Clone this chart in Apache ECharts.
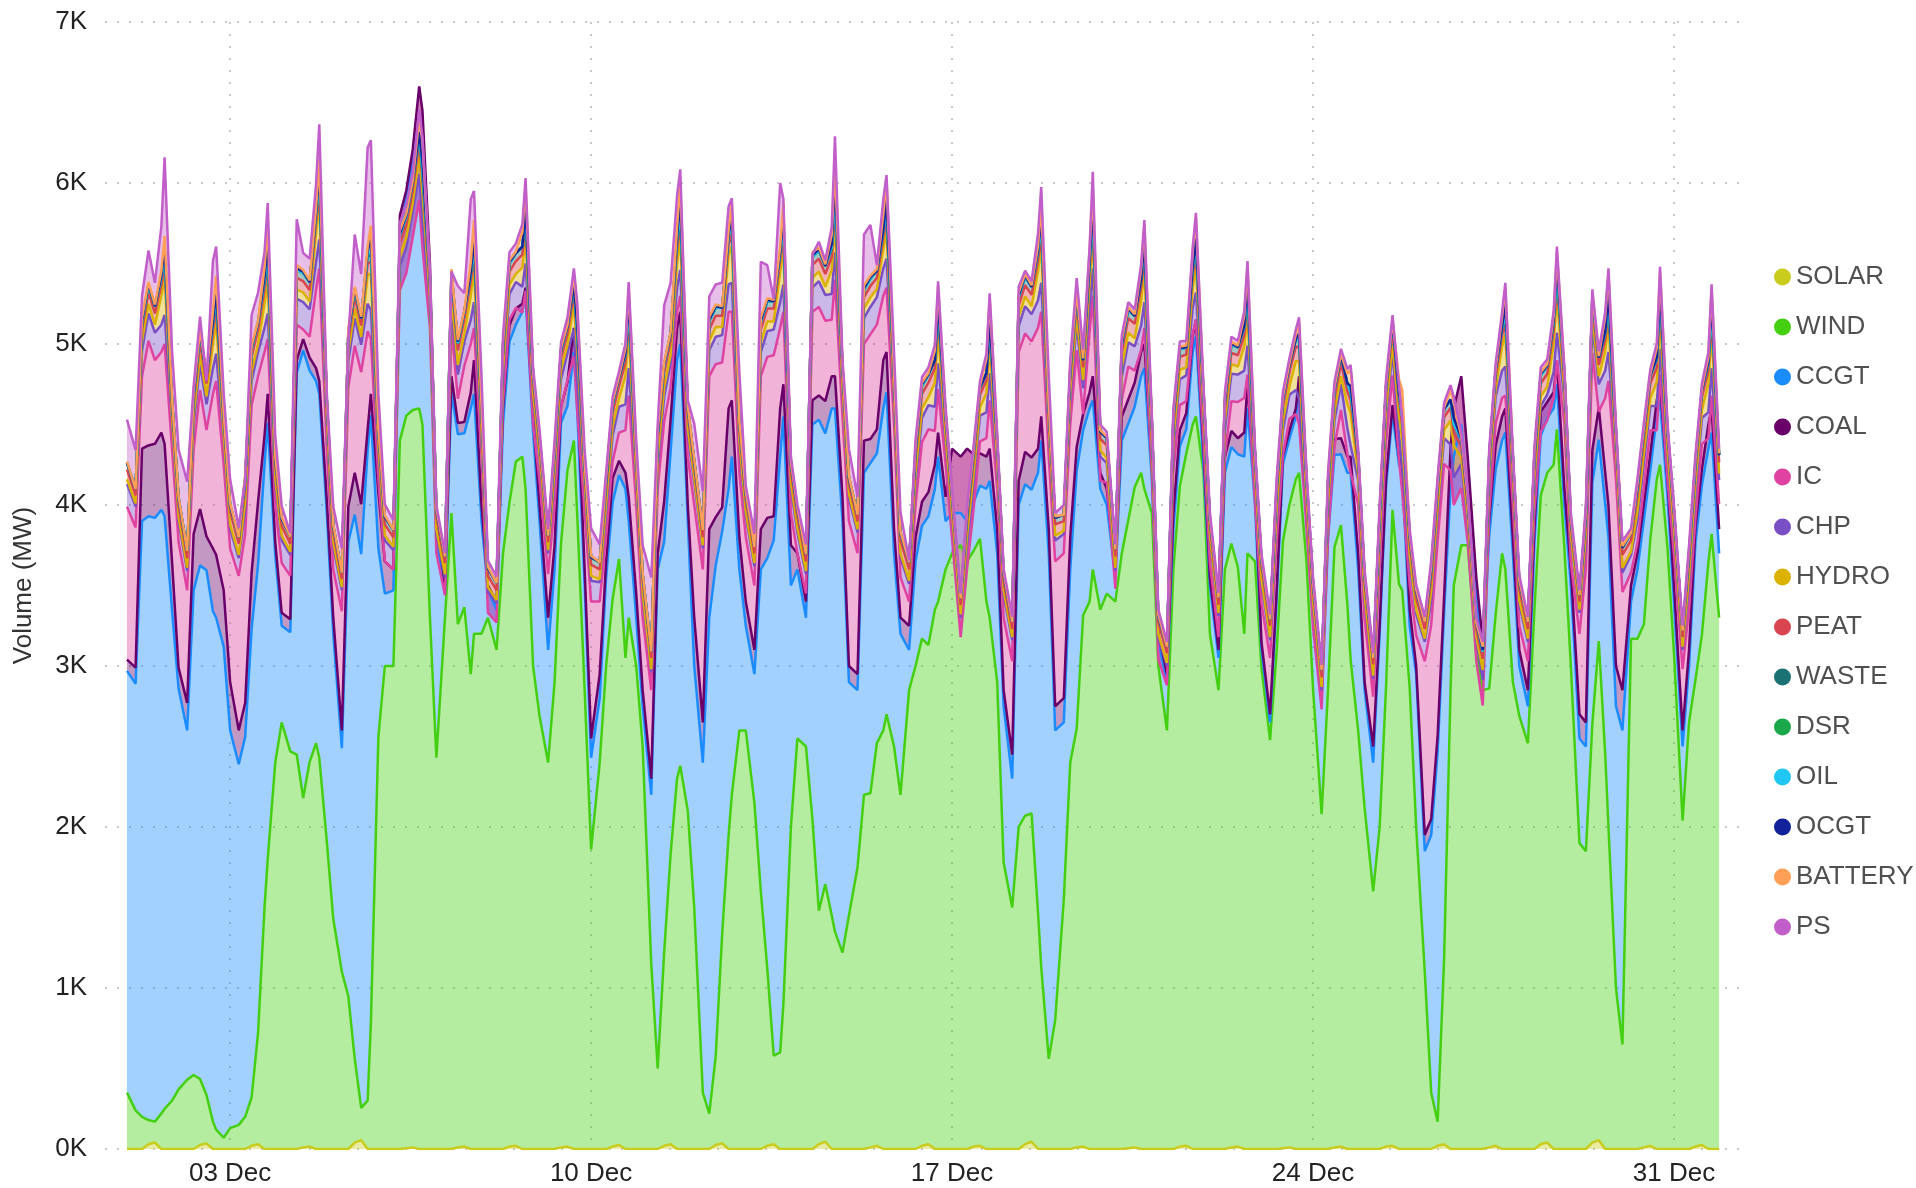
<!DOCTYPE html>
<html>
<head>
<meta charset="utf-8">
<title>Generation by fuel - December</title>
<script src="https://cdn.jsdelivr.net/npm/echarts@6.0.0/dist/echarts.min.js"></script>
<style>
  html, body { margin: 0; padding: 0; background: #fff; }
  #chart { width: 1916px; height: 1188px; }
</style>
</head>
<body>
<div id="chart"></div>
<script>
// 8 readings per day, at these hours of the day
const hours = [0, 4, 7, 10, 13, 16, 17.5, 21];
const dayCount = 31;
// tick positions in days from 01 Dec 00:00
const tickDays = [2, 9, 16, 23, 30];

const fuels = ['SOLAR', 'WIND', 'CCGT', 'COAL', 'IC', 'CHP', 'HYDRO', 'PEAT', 'WASTE', 'DSR', 'OIL', 'OCGT', 'BATTERY', 'PS'];
const colors = ['#c9cc1d', '#44d011', '#1a8cff', '#690069', '#df42a0', '#7a4fc6', '#dcb200', '#d8444f', '#1b7272', '#1ba84a', '#1fc7f2', '#12229b', '#ffa056', '#c25ec9'];

// MW
const solar = [
  0,0,0,30,40,0,0,0, 0,0,0,25,35,0,0,0, 0,0,0,20,30,0,0,0, 0,0,0,10,15,0,0,0,
  0,0,0,40,55,0,0,0, 0,0,0,5,10,0,0,0, 0,0,0,10,15,0,0,0, 0,0,0,15,20,0,0,0,
  0,0,0,10,15,0,0,0, 0,0,0,15,25,0,0,0, 0,0,0,20,30,0,0,0, 0,0,0,25,35,0,0,0,
  0,0,0,20,30,0,0,0, 0,0,0,30,45,0,0,0, 0,0,0,10,20,0,0,0, 0,0,0,20,30,0,0,0,
  0,0,0,15,20,0,0,0, 0,0,0,30,45,0,0,0, 0,0,0,10,15,0,0,0, 0,0,0,5,10,0,0,0,
  0,0,0,15,20,0,0,0, 0,0,0,10,15,0,0,0, 0,0,0,5,10,0,0,0, 0,0,0,10,15,0,0,0,
  0,0,0,15,20,0,0,0, 0,0,0,20,30,0,0,0, 0,0,0,10,20,0,0,0, 0,0,0,30,40,0,0,0,
  0,0,0,40,55,0,0,0, 0,0,0,10,20,0,0,0, 0,0,0,15,25,0,0,0
];

const wind = [
  350,240,200,150,130,220,250,300,       // 01
  370,430,460,410,300,170,120,70,
  130,150,200,300,690,1500,1800,2400,
  2650,2470,2450,2170,2390,2520,2430,1910,
  1430,1100,950,520,200,300,780,2560,    // 05
  3000,3000,4400,4550,4580,4600,4500,3300,
  2430,3300,3950,3250,3350,2950,3200,3200,
  3300,3100,3700,4000,4250,4300,4100,3000,
  2690,2400,2900,3750,4200,4400,3950,2850,
  1860,2400,3000,3400,3640,3050,3300,3000, // 10
  2500,1150,500,1200,1800,2300,2380,2100,
  1500,350,220,550,1300,1950,2200,2600,
  2600,2150,1600,1100,550,600,900,2000,
  2550,2500,2050,1450,1600,1450,1350,1220,
  1450,1750,2200,2200,2500,2600,2700,2500, // 15
  2200,2850,3000,3150,3100,3350,3400,3600,
  3700,3750,3650,3700,3770,3400,3300,2900,
  1780,1500,2000,2040,2040,1470,1130,560,
  800,1550,2400,2600,3300,3400,3600,3350,
  3450,3400,3700,3900,4100,4200,4100,3950, // 20
  3000,2600,3600,4100,4300,4500,4550,4200,
  3200,2850,3600,3750,3600,3200,3700,3650,
  2990,2540,3080,3770,3990,4160,4200,3640,
  2860,2080,2860,3730,3860,3380,3040,2600,
  2120,1600,2000,2860,3950,3510,3470,2860, // 25
  2000,1100,350,150,1150,2850,3500,3750,
  3750,3100,2850,2850,3300,3700,3600,2900,
  2690,2520,3340,4030,4160,4250,4470,3730,
  3000,1900,1850,2600,3100,2450,2000,1000,
  650,3170,3170,3250,3770,4160,4250,3730,  // 30
  3080,2040,2650,2900,3170,3640,3820,3300
];

const ccgt = [
  2620,2650,3700,3750,3750,3750,3680,3040,
  2490,2170,3010,3190,3260,3170,3180,3050,
  2470,2240,2360,2910,2910,2750,2710,1290,
  600,740,2370,2780,2430,2250,2260,2040,
  1770,1390,2820,3380,3440,4040,3780,1170,
  450,470,1240,1350,1540,1820,1790,2040,
  1370,150,750,1180,1080,1650,1490,700,
  170,250,800,1000,850,900,1200,1450,
  1210,700,700,750,400,550,650,650,
  570,400,550,600,520,1050,600,300,
  250,1050,3100,2550,2500,2600,2620,1800,
  1500,2050,3080,3050,2500,2150,2100,1000,
  650,800,2000,2550,3200,3700,3650,1500,
  1050,800,2450,3050,2800,3150,3250,2680,
  1450,1100,2000,2050,1800,2000,2000,1200,
  1000,250,650,700,800,750,900,300,
  250,200,250,300,330,700,850,800,
  970,800,2000,2060,2010,2730,3270,3140,
  1800,1100,1200,1600,1150,1200,1050,750,
  550,150,700,600,500,600,750,200,
  150,300,250,250,150,450,500,50,
  300,200,600,600,700,1100,900,350,
  110,110,320,480,410,390,550,310,
  540,720,940,570,440,820,1160,1000,
  730,800,1200,1240,600,740,730,390,
  950,750,1600,2300,2150,1250,800,750,
  250,350,200,950,900,700,850,800,
  310,230,410,370,340,350,280,270,
  500,650,650,1500,1250,1550,1800,1750,
  1950,230,430,650,430,390,400,320,
  320,460,350,850,930,710,630,400
];

const coal = [
  70,100,450,440,460,480,450,300,
  130,170,350,350,210,390,390,350,
  300,210,210,350,390,180,180,80,
  80,80,80,70,80,80,80,80,
  100,110,220,260,310,130,130,350,
  200,130,160,50,80,180,160,160,
  100,50,100,70,70,100,210,100,
  30,50,100,100,100,50,50,100,
  100,200,150,100,150,150,150,100,
  120,150,100,150,90,100,150,150,
  100,100,100,250,200,200,200,100,
  300,250,550,300,150,500,350,200,
  150,150,250,250,150,300,200,250,
  100,100,150,150,200,200,200,150,
  100,100,200,150,150,300,250,150,
  100,150,150,150,150,150,150,150,
  400,350,450,300,200,200,200,150,
  100,150,150,200,200,150,150,150,
  150,150,200,150,100,100,150,100,
  100,50,150,150,150,150,150,100,
  50,50,100,100,100,100,100,100,
  50,50,100,100,100,150,150,100,
  50,50,50,50,50,50,50,50,
  50,50,100,100,100,100,100,100,
  50,100,50,50,50,50,50,100,
  50,100,100,100,100,250,300,300,
  300,100,100,100,150,150,150,100,
  100,100,100,150,100,100,150,100,
  100,150,150,200,200,200,200,250,
  250,100,100,100,100,100,100,100,
  100,100,100,100,100,150,150,150
];

// interconnectors, negative when exporting
const ic = [
  950,870,450,650,520,500,620,700,
  780,700,520,740,660,960,1080,780,
  830,960,1050,1040,780,520,340,220,
  310,270,220,60,130,490,700,310,
  300,740,740,790,820,610,340,80,
  0,0,-465,-515,-545,-705,-850,-400,
  -200,-60,300,150,350,300,200,300,
  -170,-130,35,35,5,-55,-20,-50,
  150,270,245,0,10,-175,-160,350,
  850,450,155,105,175,265,630,550,
  450,550,400,500,200,100,100,300,
  700,950,950,950,900,600,550,400,
  400,400,950,1000,1000,500,450,200,
  0,50,550,550,500,350,600,500,
  900,750,600,650,650,400,400,650,
  250,150,200,370,390,210,270,200,
  -560,-1120,-745,-345,75,115,300,250,
  450,580,800,735,720,750,650,450,
  900,900,700,600,0,370,500,-50,
  40,-120,105,205,75,15,100,-50,
  -160,-70,255,155,75,15,0,55,
  90,80,5,185,225,215,60,-95,
  240,350,305,5,75,-35,-300,-145,
  -210,-120,-95,-45,175,15,-100,305,
  390,310,355,225,185,-15,-170,155,
  190,1080,1205,1205,825,-135,-600,-695,
  -530,-520,-395,45,135,115,80,195,
  150,180,105,-125,-115,-35,0,405,
  40,500,955,605,-25,465,770,1155,
  610,80,65,105,145,-185,60,5,
  190,380,255,55,155,-85,80,155
];

const chp = [
  140,130,160,170,170,170,180,160, 130,120,150,160,160,160,170,150, 120,110,140,150,150,150,160,140,
  140,130,160,170,170,170,180,160, 140,130,160,170,170,170,180,160, 130,120,150,160,160,160,170,150,
  120,110,140,150,150,150,160,140, 130,120,150,160,160,160,170,150, 140,130,160,170,170,170,180,160,
  130,120,150,160,160,160,170,150, 120,110,140,150,150,150,160,140, 140,130,160,170,170,170,180,160,
  130,120,150,160,160,160,170,150, 130,120,150,160,160,160,170,150, 140,130,160,170,170,170,180,160,
  120,110,140,150,150,150,160,140, 130,120,150,160,160,160,170,150, 140,130,160,170,170,170,180,160,
  130,120,150,160,160,160,170,150, 120,110,140,150,150,150,160,140, 130,120,150,160,160,160,170,150,
  140,130,160,170,170,170,180,160, 120,110,140,150,150,150,160,140, 130,120,150,160,160,160,170,150,
  120,110,140,150,150,150,160,140, 130,120,150,160,160,160,170,150, 140,130,160,170,170,170,180,160,
  130,120,150,160,160,160,170,150, 140,130,160,170,170,170,180,160, 120,110,140,150,150,150,160,140,
  130,120,150,160,160,160,170,150
];

const hydro = [
  30,20,60,60,50,180,230,40, 30,20,60,60,50,150,200,40, 30,20,60,60,50,150,200,40,
  30,20,60,60,50,180,230,40, 30,20,60,60,50,180,230,40, 30,20,60,60,50,120,170,40,
  30,20,60,60,50,150,200,40, 30,20,60,60,50,120,170,40, 30,20,60,60,50,150,200,40,
  30,20,60,60,50,180,230,40, 30,20,60,60,50,150,200,40, 30,20,60,60,50,180,230,40,
  30,20,60,60,50,180,230,40, 30,20,60,60,50,150,200,40, 30,20,60,60,50,120,170,40,
  30,20,60,60,50,150,200,40, 30,20,60,60,50,120,170,40, 30,20,60,60,50,180,230,40,
  30,20,60,60,50,150,200,40, 30,20,60,60,50,150,200,40, 30,20,60,60,50,120,170,40,
  30,20,60,60,50,150,200,40, 30,20,60,60,50,180,230,40, 30,20,60,60,50,150,200,40,
  30,20,60,60,50,120,170,40, 30,20,60,60,50,150,200,40, 30,20,60,60,50,150,200,40,
  30,20,60,60,50,180,230,40, 30,20,60,60,50,120,170,40, 30,20,60,60,50,150,200,40,
  30,20,60,60,50,180,230,40
];

const peat = [
  60,50,70,70,70,70,70,60, 70,60,80,80,80,80,80,70, 80,70,90,90,90,90,90,80,
  60,50,70,70,70,70,70,60, 60,50,70,70,70,70,70,60, 70,60,80,80,80,80,80,70,
  80,70,90,90,90,90,90,80, 70,60,80,80,80,80,80,70, 60,50,70,70,70,70,70,60,
  70,60,80,80,80,80,80,70, 80,70,90,90,90,90,90,80, 60,50,70,70,70,70,70,60,
  70,60,80,80,80,80,80,70, 70,60,80,80,80,80,80,70, 60,50,70,70,70,70,70,60,
  80,70,90,90,90,90,90,80, 70,60,80,80,80,80,80,70, 60,50,70,70,70,70,70,60,
  70,60,80,80,80,80,80,70, 80,70,90,90,90,90,90,80, 70,60,80,80,80,80,80,70,
  60,50,70,70,70,70,70,60, 80,70,90,90,90,90,90,80, 70,60,80,80,80,80,80,70,
  80,70,90,90,90,90,90,80, 70,60,80,80,80,80,80,70, 60,50,70,70,70,70,70,60,
  70,60,80,80,80,80,80,70, 60,50,70,70,70,70,70,60, 80,70,90,90,90,90,90,80,
  70,60,80,80,80,80,80,70
];

const waste = [
  40,40,45,45,45,45,45,45, 45,45,50,50,50,50,50,50, 40,40,45,45,45,45,45,45, 45,45,50,50,50,50,50,50,
  40,40,45,45,45,45,45,45, 45,45,50,50,50,50,50,50, 40,40,45,45,45,45,45,45, 45,45,50,50,50,50,50,50,
  40,40,45,45,45,45,45,45, 45,45,50,50,50,50,50,50, 40,40,45,45,45,45,45,45, 45,45,50,50,50,50,50,50,
  40,40,45,45,45,45,45,45, 45,45,50,50,50,50,50,50, 40,40,45,45,45,45,45,45, 45,45,50,50,50,50,50,50,
  40,40,45,45,45,45,45,45, 45,45,50,50,50,50,50,50, 40,40,45,45,45,45,45,45, 45,45,50,50,50,50,50,50,
  40,40,45,45,45,45,45,45, 45,45,50,50,50,50,50,50, 40,40,45,45,45,45,45,45, 45,45,50,50,50,50,50,50,
  40,40,45,45,45,45,45,45, 45,45,50,50,50,50,50,50, 40,40,45,45,45,45,45,45, 45,45,50,50,50,50,50,50,
  40,40,45,45,45,45,45,45, 45,45,50,50,50,50,50,50, 40,40,45,45,45,45,45,45
];

const dsr = [
  0,0,0,0,0,0,10,0, 0,0,0,0,0,0,10,0, 0,0,0,0,0,10,20,0, 0,0,0,0,0,0,10,0,
  0,0,0,0,0,10,20,0, 0,0,0,0,0,0,0,0, 0,0,0,0,0,0,10,0, 0,0,0,0,0,0,10,0,
  0,0,0,0,0,0,0,0, 0,0,0,0,0,0,10,0, 0,0,0,0,0,10,20,0, 0,0,0,0,0,0,10,0,
  0,0,0,0,0,0,10,0, 0,0,0,0,0,10,20,0, 0,0,0,0,0,0,10,0, 0,0,0,0,0,0,0,0,
  0,0,0,0,0,0,0,0, 0,0,0,0,0,0,10,0, 0,0,0,0,0,0,10,0, 0,0,0,0,0,0,0,0,
  0,0,0,0,0,0,0,0, 0,0,0,0,0,0,10,0, 0,0,0,0,0,0,0,0, 0,0,0,0,0,0,0,0,
  0,0,0,0,0,0,0,0, 0,0,0,0,0,0,0,0, 0,0,0,0,0,0,10,0, 0,0,0,0,0,0,10,0,
  0,0,0,0,0,0,10,0, 0,0,0,0,0,0,0,0, 0,0,0,0,0,0,0,0
];

const oil = [
  0,0,0,0,0,0,5,0, 0,0,0,0,0,0,5,0, 0,0,0,0,0,0,10,0, 0,0,0,0,0,0,5,0,
  0,0,0,0,0,0,10,0, 0,0,0,0,0,0,0,0, 0,0,0,0,0,0,5,0, 0,0,0,0,0,0,0,0,
  0,0,0,0,0,0,0,0, 0,0,0,0,0,0,5,0, 0,0,0,0,0,0,10,0, 0,0,0,0,0,0,5,0,
  0,0,0,0,0,0,5,0, 0,0,0,0,0,0,10,0, 0,0,0,0,0,0,5,0, 0,0,0,0,0,0,0,0,
  0,0,0,0,0,0,0,0, 0,0,0,0,0,0,5,0, 0,0,0,0,0,0,5,0, 0,0,0,0,0,0,0,0,
  0,0,0,0,0,0,0,0, 0,0,0,0,0,0,5,0, 0,0,0,0,0,0,0,0, 0,0,0,0,0,0,0,0,
  0,0,0,0,0,0,0,0, 0,0,0,0,0,0,0,0, 0,0,0,0,0,0,5,0, 0,0,0,0,0,0,5,0,
  0,0,0,0,0,0,5,0, 0,0,0,0,0,0,0,0, 0,0,0,0,0,0,5,0
];

const ocgt = [
  0,0,10,10,0,10,60,0, 0,0,10,10,0,10,40,0, 0,0,10,10,0,20,80,0, 0,0,10,10,0,10,60,0,
  0,0,10,10,0,20,80,0, 0,0,10,10,0,10,60,0, 0,0,10,10,0,10,60,0, 0,0,10,10,0,0,40,0,
  0,0,10,10,0,10,40,0, 0,0,10,10,0,10,60,0, 0,0,10,10,0,20,80,0, 0,0,10,10,0,10,60,0,
  0,0,10,10,0,10,60,0, 0,0,10,10,0,20,80,0, 0,0,10,10,0,10,60,0, 0,0,10,10,0,0,40,0,
  0,0,10,10,0,0,40,0, 0,0,10,10,0,10,60,0, 0,0,10,10,0,10,60,0, 0,0,10,10,0,0,40,0,
  0,0,10,10,0,10,40,0, 0,0,10,10,0,10,60,0, 0,0,10,10,0,0,40,0, 0,0,10,10,0,0,40,0,
  0,0,10,10,0,0,40,0, 0,0,10,10,0,0,40,0, 0,0,10,10,0,10,60,0, 0,0,10,10,0,10,60,0,
  0,0,10,10,0,10,60,0, 0,0,10,10,0,10,40,0, 0,0,10,10,0,10,60,0
];

const battery = [
  10,0,20,10,10,30,70,10, 10,0,20,10,10,60,100,10, 10,0,20,10,10,60,100,10,
  10,0,20,10,10,30,70,10, 10,0,20,10,10,30,70,10, 10,0,20,10,10,90,130,10,
  10,0,20,10,10,60,100,10, 10,0,20,10,10,90,130,10, 10,0,20,10,10,60,100,10,
  10,0,20,10,10,30,70,10, 10,0,20,10,10,60,100,10, 10,0,20,10,10,30,70,10,
  10,0,20,10,10,30,70,10, 10,0,20,10,10,60,100,10, 10,0,20,10,10,90,130,10,
  10,0,20,10,10,60,100,10, 10,0,20,10,10,90,130,10, 10,0,20,10,10,30,70,10,
  10,0,20,10,10,60,100,10, 10,0,20,10,10,60,100,10, 10,0,20,10,10,90,130,10,
  10,0,20,10,10,60,100,10, 10,0,20,10,10,30,70,10, 10,0,20,10,10,60,100,10,
  10,0,20,10,10,90,130,10, 10,0,20,10,10,60,100,10, 10,0,20,10,10,60,100,10,
  10,0,20,10,10,30,70,10, 10,0,20,10,10,90,130,10, 10,0,20,10,10,60,100,10,
  10,0,20,10,10,30,70,10
];

// pumped storage, negative when pumping
const ps = [
  260,240,135,195,135,275,490,295,
  290,430,25,85,-45,315,180,125,
  150,60,-25,195,175,95,140,125,
  70,20,285,105,135,145,220,35,
  110,150,-65,325,265,615,530,215,
  70,60,50,50,50,50,30,35,
  20,20,-15,335,105,395,180,185,
  40,40,50,50,50,50,50,35,
  40,40,40,35,45,40,40,75,
  170,110,30,30,30,30,30,85,
  170,460,35,355,305,195,80,35,
  220,240,125,125,145,145,30,305,
  40,80,345,205,5,395,30,35,
  20,60,-15,35,25,45,180,35,
  170,110,315,315,25,95,30,135,
  120,10,35,35,35,35,30,35,
  30,30,30,30,30,30,30,35,
  20,30,35,20,25,75,100,185,
  20,60,35,85,55,25,100,35,
  30,30,30,30,30,30,30,35,
  30,30,30,30,30,30,30,30,
  30,30,30,30,30,30,30,30,
  30,30,30,30,30,30,30,30,
  30,30,30,30,30,30,30,30,
  30,30,30,30,30,-40,-170,30,
  30,30,30,30,30,30,30,30,
  30,30,30,30,30,30,30,30,
  30,30,30,30,30,30,30,30,
  30,30,30,30,30,30,30,30,
  30,30,30,30,30,30,30,30,
  30,30,30,30,30,30,30,30
];

const values = [solar, wind, ccgt, coal, ic, chp, hydro, peat, waste, dsr, oil, ocgt, battery, ps];

// timestamps (UTC) for each reading
const DAY = 86400000;
const start = Date.UTC(2023, 11, 1);
const xs = [];
for (let d = 0; d < dayCount; d++) {
  hours.forEach(h => xs.push(start + d * DAY + h * 3600000));
}
// axis range in days from 01 Dec, shared by the data axis and the label axis
const dayMin = -0.4266;
const dayMax = 31.28;

const font = '"Liberation Sans", Arial, sans-serif';
const dotted = { color: '#c9c9c9', width: 2, type: [2, 10] };

const series = fuels.map((name, k) => ({
  name: name,
  type: 'line',
  xAxisIndex: 0,
  stack: 'gen',
  stackStrategy: 'all',
  symbol: 'none',
  showSymbol: false,
  data: values[k].map((v, i) => [xs[i], v]),
  lineStyle: { width: 2.5, color: colors[k] },
  itemStyle: { color: colors[k] },
  areaStyle: { color: colors[k], opacity: 0.4 },
  emphasis: { disabled: true }
}));

const chart = echarts.init(document.getElementById('chart'));
chart.setOption({
  animation: false,
  backgroundColor: '#fff',
  grid: { left: 105, right: 176, top: 22, bottom: 39 },
  legend: {
    data: fuels,
    orient: 'vertical',
    left: 1769,
    top: 259,
    icon: 'circle',
    itemWidth: 17,
    itemHeight: 17,
    itemGap: 24,
    textStyle: { fontSize: 26, color: '#505050', fontFamily: font }
  },
  xAxis: [
    {
      // data axis (time), not drawn
      type: 'time',
      min: start + dayMin * DAY,
      max: start + dayMax * DAY,
      show: false
    },
    {
      // label axis in days, same extent
      type: 'value',
      position: 'bottom',
      min: dayMin,
      max: dayMax,
      axisLine: { show: false },
      axisTick: { show: false, customValues: tickDays },
      axisLabel: {
        customValues: tickDays,
        margin: 12,
        fontSize: 26,
        color: '#222',
        fontFamily: font,
        formatter: v => String(Math.round(v) + 1).padStart(2, '0') + ' Dec'
      },
      splitLine: { show: true, lineStyle: dotted }
    }
  ],
  yAxis: {
    type: 'value',
    min: 0,
    max: 7000,
    interval: 1000,
    name: 'Volume (MW)',
    nameLocation: 'middle',
    nameGap: 68,
    nameTextStyle: { fontSize: 26, color: '#333', fontFamily: font },
    axisLine: { show: false },
    axisTick: { show: false },
    axisLabel: {
      margin: 18,
      fontSize: 26,
      color: '#222',
      fontFamily: font,
      formatter: v => (v / 1000) + 'K'
    },
    splitLine: { show: true, lineStyle: dotted }
  },
  series: series
});
</script>
</body>
</html>
